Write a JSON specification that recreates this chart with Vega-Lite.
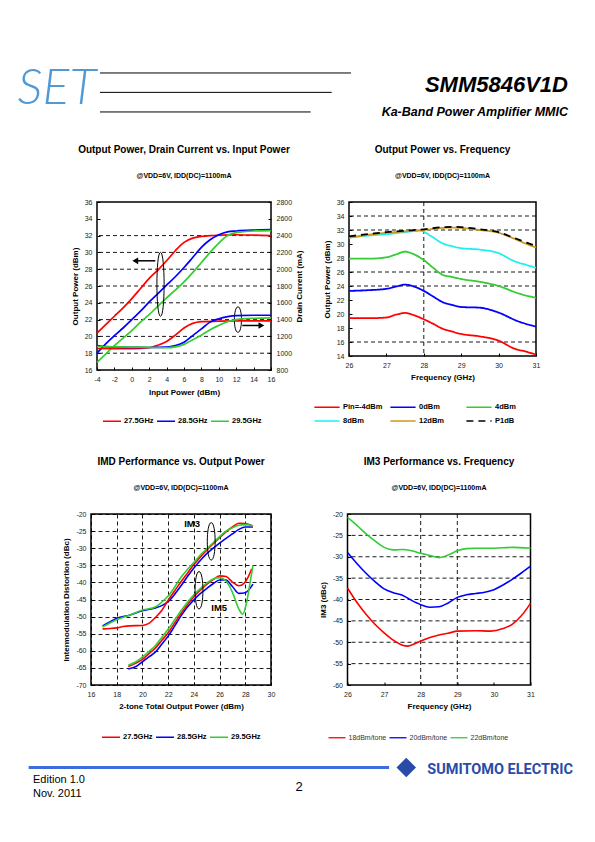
{
"$schema": "https://vega.github.io/schema/vega-lite/v6.json",
"background": "white",
"padding": {"left": 0, "top": 61, "right": 0, "bottom": 0},
"config": {
  "font": "Liberation Sans",
  "view": {"stroke": null},
  "axis": {"domain": false, "grid": false, "labelFont": "Liberation Sans", "labelFontSize": 7, "labelColor": "#222", "titleFont": "Liberation Sans", "titleFontSize": 8, "titleFontWeight": "bold", "titleColor": "#000", "tickColor": "#000", "tickSize": -3, "labelPadding": 8, "titlePadding": 5, "labelFlush": false, "labelOverlap": false, "gridColor": "#000", "gridDash": [4, 3], "gridWidth": 0.9, "gridOpacity": 1},
  "title": {"font": "Liberation Sans", "fontSize": 10, "fontWeight": "bold", "color": "#000", "subtitleFont": "Liberation Sans", "subtitleFontSize": 7, "subtitleFontWeight": "bold", "subtitleColor": "#000", "subtitlePadding": 17, "offset": 19, "anchor": "middle", "frame": "group"},
  "legend": {"labelFont": "Liberation Sans", "labelColor": "#000", "symbolType": "stroke"}
},
"datasets": {
  "p1pout": [
    {"x":-4,"y":20.4,"freq":"27.5GHz"},{"x":-3,"y":21.4,"freq":"27.5GHz"},{"x":-2,"y":22.4,"freq":"27.5GHz"},{"x":-1,"y":23.4,"freq":"27.5GHz"},{"x":0,"y":24.5,"freq":"27.5GHz"},{"x":1,"y":25.7,"freq":"27.5GHz"},{"x":2,"y":26.9,"freq":"27.5GHz"},{"x":3,"y":27.9,"freq":"27.5GHz"},{"x":4,"y":29.0,"freq":"27.5GHz"},{"x":5,"y":30.2,"freq":"27.5GHz"},{"x":6,"y":31.2,"freq":"27.5GHz"},{"x":7,"y":31.7,"freq":"27.5GHz"},{"x":8,"y":31.9,"freq":"27.5GHz"},{"x":9,"y":32.0,"freq":"27.5GHz"},{"x":10,"y":32.05,"freq":"27.5GHz"},{"x":12,"y":32.1,"freq":"27.5GHz"},{"x":14,"y":32.05,"freq":"27.5GHz"},{"x":16,"y":32.0,"freq":"27.5GHz"},
    {"x":-4,"y":18.0,"freq":"28.5GHz"},{"x":-3,"y":19.1,"freq":"28.5GHz"},{"x":-2,"y":20.1,"freq":"28.5GHz"},{"x":-1,"y":21.0,"freq":"28.5GHz"},{"x":0,"y":22.0,"freq":"28.5GHz"},{"x":1,"y":23.0,"freq":"28.5GHz"},{"x":2,"y":24.1,"freq":"28.5GHz"},{"x":3,"y":25.1,"freq":"28.5GHz"},{"x":4,"y":26.1,"freq":"28.5GHz"},{"x":5,"y":27.1,"freq":"28.5GHz"},{"x":6,"y":28.2,"freq":"28.5GHz"},{"x":7,"y":29.4,"freq":"28.5GHz"},{"x":8,"y":30.6,"freq":"28.5GHz"},{"x":9,"y":31.5,"freq":"28.5GHz"},{"x":10,"y":32.1,"freq":"28.5GHz"},{"x":11,"y":32.45,"freq":"28.5GHz"},{"x":12,"y":32.55,"freq":"28.5GHz"},{"x":14,"y":32.65,"freq":"28.5GHz"},{"x":16,"y":32.7,"freq":"28.5GHz"},
    {"x":-4,"y":16.9,"freq":"29.5GHz"},{"x":-3,"y":17.9,"freq":"29.5GHz"},{"x":-2,"y":18.9,"freq":"29.5GHz"},{"x":-1,"y":19.8,"freq":"29.5GHz"},{"x":0,"y":20.7,"freq":"29.5GHz"},{"x":1,"y":21.7,"freq":"29.5GHz"},{"x":2,"y":22.6,"freq":"29.5GHz"},{"x":3,"y":23.6,"freq":"29.5GHz"},{"x":4,"y":24.6,"freq":"29.5GHz"},{"x":5,"y":25.5,"freq":"29.5GHz"},{"x":6,"y":26.5,"freq":"29.5GHz"},{"x":7,"y":27.6,"freq":"29.5GHz"},{"x":8,"y":28.8,"freq":"29.5GHz"},{"x":9,"y":30.0,"freq":"29.5GHz"},{"x":10,"y":31.1,"freq":"29.5GHz"},{"x":11,"y":32.0,"freq":"29.5GHz"},{"x":12,"y":32.35,"freq":"29.5GHz"},{"x":14,"y":32.55,"freq":"29.5GHz"},{"x":16,"y":32.6,"freq":"29.5GHz"}
  ],
  "p1id": [
    {"x":-4,"ma":1056,"freq":"27.5GHz"},{"x":-2,"ma":1055,"freq":"27.5GHz"},{"x":0,"ma":1055,"freq":"27.5GHz"},{"x":2,"ma":1065,"freq":"27.5GHz"},{"x":3,"ma":1095,"freq":"27.5GHz"},{"x":4,"ma":1140,"freq":"27.5GHz"},{"x":5,"ma":1215,"freq":"27.5GHz"},{"x":6,"ma":1300,"freq":"27.5GHz"},{"x":7,"ma":1355,"freq":"27.5GHz"},{"x":8,"ma":1375,"freq":"27.5GHz"},{"x":10,"ma":1383,"freq":"27.5GHz"},{"x":12,"ma":1385,"freq":"27.5GHz"},{"x":14,"ma":1385,"freq":"27.5GHz"},{"x":16,"ma":1385,"freq":"27.5GHz"},
    {"x":-4,"ma":1090,"freq":"28.5GHz"},{"x":-3,"ma":1078,"freq":"28.5GHz"},{"x":-2,"ma":1072,"freq":"28.5GHz"},{"x":0,"ma":1070,"freq":"28.5GHz"},{"x":2,"ma":1068,"freq":"28.5GHz"},{"x":4,"ma":1072,"freq":"28.5GHz"},{"x":5,"ma":1090,"freq":"28.5GHz"},{"x":6,"ma":1130,"freq":"28.5GHz"},{"x":7,"ma":1210,"freq":"28.5GHz"},{"x":8,"ma":1290,"freq":"28.5GHz"},{"x":9,"ma":1370,"freq":"28.5GHz"},{"x":10,"ma":1410,"freq":"28.5GHz"},{"x":11,"ma":1435,"freq":"28.5GHz"},{"x":12,"ma":1448,"freq":"28.5GHz"},{"x":14,"ma":1452,"freq":"28.5GHz"},{"x":16,"ma":1452,"freq":"28.5GHz"},
    {"x":-4,"ma":1080,"freq":"29.5GHz"},{"x":-2,"ma":1075,"freq":"29.5GHz"},{"x":0,"ma":1072,"freq":"29.5GHz"},{"x":2,"ma":1070,"freq":"29.5GHz"},{"x":4,"ma":1065,"freq":"29.5GHz"},{"x":5,"ma":1075,"freq":"29.5GHz"},{"x":6,"ma":1105,"freq":"29.5GHz"},{"x":7,"ma":1160,"freq":"29.5GHz"},{"x":8,"ma":1215,"freq":"29.5GHz"},{"x":9,"ma":1280,"freq":"29.5GHz"},{"x":10,"ma":1330,"freq":"29.5GHz"},{"x":11,"ma":1375,"freq":"29.5GHz"},{"x":12,"ma":1400,"freq":"29.5GHz"},{"x":14,"ma":1415,"freq":"29.5GHz"},{"x":16,"ma":1420,"freq":"29.5GHz"}
  ],
  "p2": [
    {"x":26,"y":19.4,"pin":"Pin=-4dBm"},{"x":26.5,"y":19.4,"pin":"Pin=-4dBm"},{"x":27,"y":19.5,"pin":"Pin=-4dBm"},{"x":27.25,"y":19.9,"pin":"Pin=-4dBm"},{"x":27.5,"y":20.15,"pin":"Pin=-4dBm"},{"x":27.75,"y":19.8,"pin":"Pin=-4dBm"},{"x":28,"y":19.25,"pin":"Pin=-4dBm"},{"x":28.25,"y":18.6,"pin":"Pin=-4dBm"},{"x":28.5,"y":17.9,"pin":"Pin=-4dBm"},{"x":28.75,"y":17.5,"pin":"Pin=-4dBm"},{"x":29,"y":17.15,"pin":"Pin=-4dBm"},{"x":29.5,"y":16.8,"pin":"Pin=-4dBm"},{"x":30,"y":16.2,"pin":"Pin=-4dBm"},{"x":30.4,"y":15.1,"pin":"Pin=-4dBm"},{"x":30.75,"y":14.6,"pin":"Pin=-4dBm"},{"x":31,"y":14.2,"pin":"Pin=-4dBm"},
    {"x":26,"y":23.3,"pin":"0dBm"},{"x":26.5,"y":23.4,"pin":"0dBm"},{"x":27,"y":23.6,"pin":"0dBm"},{"x":27.25,"y":23.9,"pin":"0dBm"},{"x":27.5,"y":24.2,"pin":"0dBm"},{"x":27.75,"y":23.9,"pin":"0dBm"},{"x":28,"y":23.3,"pin":"0dBm"},{"x":28.25,"y":22.5,"pin":"0dBm"},{"x":28.5,"y":21.7,"pin":"0dBm"},{"x":28.75,"y":21.3,"pin":"0dBm"},{"x":29,"y":21.0,"pin":"0dBm"},{"x":29.5,"y":20.9,"pin":"0dBm"},{"x":30,"y":20.2,"pin":"0dBm"},{"x":30.5,"y":19.0,"pin":"0dBm"},{"x":31,"y":18.2,"pin":"0dBm"},
    {"x":26,"y":27.9,"pin":"4dBm"},{"x":26.5,"y":27.9,"pin":"4dBm"},{"x":27,"y":28.1,"pin":"4dBm"},{"x":27.25,"y":28.5,"pin":"4dBm"},{"x":27.5,"y":28.9,"pin":"4dBm"},{"x":27.75,"y":28.5,"pin":"4dBm"},{"x":28,"y":27.7,"pin":"4dBm"},{"x":28.25,"y":26.6,"pin":"4dBm"},{"x":28.5,"y":25.6,"pin":"4dBm"},{"x":28.75,"y":25.3,"pin":"4dBm"},{"x":29,"y":25.0,"pin":"4dBm"},{"x":29.5,"y":24.6,"pin":"4dBm"},{"x":30,"y":24.0,"pin":"4dBm"},{"x":30.5,"y":23.0,"pin":"4dBm"},{"x":31,"y":22.3,"pin":"4dBm"},
    {"x":26,"y":30.9,"pin":"8dBm"},{"x":26.5,"y":31.2,"pin":"8dBm"},{"x":27,"y":31.4,"pin":"8dBm"},{"x":27.5,"y":31.7,"pin":"8dBm"},{"x":27.9,"y":31.9,"pin":"8dBm"},{"x":28.2,"y":31.1,"pin":"8dBm"},{"x":28.5,"y":30.1,"pin":"8dBm"},{"x":28.75,"y":29.7,"pin":"8dBm"},{"x":29,"y":29.4,"pin":"8dBm"},{"x":29.5,"y":29.2,"pin":"8dBm"},{"x":30,"y":28.7,"pin":"8dBm"},{"x":30.4,"y":27.6,"pin":"8dBm"},{"x":30.75,"y":27.0,"pin":"8dBm"},{"x":31,"y":26.6,"pin":"8dBm"},
    {"x":26,"y":30.9,"pin":"12dBm"},{"x":26.5,"y":31.3,"pin":"12dBm"},{"x":27,"y":31.6,"pin":"12dBm"},{"x":27.5,"y":31.8,"pin":"12dBm"},{"x":28,"y":32.0,"pin":"12dBm"},{"x":28.5,"y":32.3,"pin":"12dBm"},{"x":28.75,"y":32.35,"pin":"12dBm"},{"x":29,"y":32.3,"pin":"12dBm"},{"x":29.5,"y":32.0,"pin":"12dBm"},{"x":30,"y":31.6,"pin":"12dBm"},{"x":30.4,"y":30.8,"pin":"12dBm"},{"x":30.75,"y":30.0,"pin":"12dBm"},{"x":31,"y":29.5,"pin":"12dBm"},
    {"x":26,"y":31.1,"pin":"P1dB"},{"x":26.5,"y":31.4,"pin":"P1dB"},{"x":27,"y":31.7,"pin":"P1dB"},{"x":27.5,"y":31.9,"pin":"P1dB"},{"x":28,"y":32.1,"pin":"P1dB"},{"x":28.5,"y":32.4,"pin":"P1dB"},{"x":28.75,"y":32.45,"pin":"P1dB"},{"x":29,"y":32.4,"pin":"P1dB"},{"x":29.5,"y":32.1,"pin":"P1dB"},{"x":30,"y":31.7,"pin":"P1dB"},{"x":30.4,"y":30.9,"pin":"P1dB"},{"x":30.75,"y":30.2,"pin":"P1dB"},{"x":31,"y":29.7,"pin":"P1dB"}
  ],
  "p3": [
    {"x":16.9,"y":-52.7,"freq":"28.5GHz","kind":"IM3"},{"x":17.5,"y":-51.5,"freq":"28.5GHz","kind":"IM3"},{"x":18,"y":-50.5,"freq":"28.5GHz","kind":"IM3"},{"x":19,"y":-49.6,"freq":"28.5GHz","kind":"IM3"},{"x":20,"y":-48.3,"freq":"28.5GHz","kind":"IM3"},{"x":21,"y":-47.5,"freq":"28.5GHz","kind":"IM3"},{"x":21.5,"y":-46.8,"freq":"28.5GHz","kind":"IM3"},{"x":22,"y":-45.6,"freq":"28.5GHz","kind":"IM3"},{"x":22.5,"y":-43.5,"freq":"28.5GHz","kind":"IM3"},{"x":23,"y":-41,"freq":"28.5GHz","kind":"IM3"},{"x":23.5,"y":-38.3,"freq":"28.5GHz","kind":"IM3"},{"x":24,"y":-35.8,"freq":"28.5GHz","kind":"IM3"},{"x":24.5,"y":-33.6,"freq":"28.5GHz","kind":"IM3"},{"x":25,"y":-31.6,"freq":"28.5GHz","kind":"IM3"},{"x":25.5,"y":-30,"freq":"28.5GHz","kind":"IM3"},{"x":26,"y":-28.5,"freq":"28.5GHz","kind":"IM3"},{"x":26.5,"y":-27.1,"freq":"28.5GHz","kind":"IM3"},{"x":27,"y":-25.8,"freq":"28.5GHz","kind":"IM3"},{"x":27.5,"y":-24.5,"freq":"28.5GHz","kind":"IM3"},{"x":28,"y":-23.8,"freq":"28.5GHz","kind":"IM3"},{"x":28.6,"y":-23.8,"freq":"28.5GHz","kind":"IM3"},
    {"x":16.9,"y":-53.6,"freq":"27.5GHz","kind":"IM3"},{"x":17.5,"y":-53.5,"freq":"27.5GHz","kind":"IM3"},{"x":18,"y":-53.3,"freq":"27.5GHz","kind":"IM3"},{"x":18.5,"y":-52.9,"freq":"27.5GHz","kind":"IM3"},{"x":19,"y":-52.7,"freq":"27.5GHz","kind":"IM3"},{"x":20,"y":-52.6,"freq":"27.5GHz","kind":"IM3"},{"x":20.5,"y":-52.0,"freq":"27.5GHz","kind":"IM3"},{"x":21,"y":-50.3,"freq":"27.5GHz","kind":"IM3"},{"x":21.5,"y":-48.2,"freq":"27.5GHz","kind":"IM3"},{"x":22,"y":-45.2,"freq":"27.5GHz","kind":"IM3"},{"x":22.5,"y":-42.5,"freq":"27.5GHz","kind":"IM3"},{"x":23,"y":-39.8,"freq":"27.5GHz","kind":"IM3"},{"x":23.5,"y":-37.3,"freq":"27.5GHz","kind":"IM3"},{"x":24,"y":-34.8,"freq":"27.5GHz","kind":"IM3"},{"x":24.5,"y":-32.6,"freq":"27.5GHz","kind":"IM3"},{"x":25,"y":-30.6,"freq":"27.5GHz","kind":"IM3"},{"x":25.5,"y":-28.7,"freq":"27.5GHz","kind":"IM3"},{"x":26,"y":-26.9,"freq":"27.5GHz","kind":"IM3"},{"x":26.5,"y":-25.2,"freq":"27.5GHz","kind":"IM3"},{"x":27,"y":-23.8,"freq":"27.5GHz","kind":"IM3"},{"x":27.5,"y":-22.7,"freq":"27.5GHz","kind":"IM3"},{"x":28,"y":-22.8,"freq":"27.5GHz","kind":"IM3"},{"x":28.6,"y":-23.5,"freq":"27.5GHz","kind":"IM3"},
    {"x":16.9,"y":-53.0,"freq":"29.5GHz","kind":"IM3"},{"x":17.5,"y":-51.8,"freq":"29.5GHz","kind":"IM3"},{"x":18,"y":-50.9,"freq":"29.5GHz","kind":"IM3"},{"x":19,"y":-49.6,"freq":"29.5GHz","kind":"IM3"},{"x":20,"y":-48.1,"freq":"29.5GHz","kind":"IM3"},{"x":21,"y":-47.2,"freq":"29.5GHz","kind":"IM3"},{"x":21.5,"y":-45.8,"freq":"29.5GHz","kind":"IM3"},{"x":22,"y":-44.0,"freq":"29.5GHz","kind":"IM3"},{"x":22.5,"y":-41.4,"freq":"29.5GHz","kind":"IM3"},{"x":23,"y":-38.5,"freq":"29.5GHz","kind":"IM3"},{"x":23.5,"y":-36.2,"freq":"29.5GHz","kind":"IM3"},{"x":24,"y":-34.2,"freq":"29.5GHz","kind":"IM3"},{"x":24.5,"y":-32.0,"freq":"29.5GHz","kind":"IM3"},{"x":25,"y":-30.2,"freq":"29.5GHz","kind":"IM3"},{"x":25.5,"y":-28.4,"freq":"29.5GHz","kind":"IM3"},{"x":26,"y":-26.6,"freq":"29.5GHz","kind":"IM3"},{"x":26.5,"y":-25.0,"freq":"29.5GHz","kind":"IM3"},{"x":27,"y":-24.0,"freq":"29.5GHz","kind":"IM3"},{"x":27.5,"y":-23.3,"freq":"29.5GHz","kind":"IM3"},{"x":28,"y":-23.1,"freq":"29.5GHz","kind":"IM3"},{"x":28.6,"y":-23.5,"freq":"29.5GHz","kind":"IM3"},
    {"x":18.9,"y":-65.3,"freq":"28.5GHz","kind":"IM5"},{"x":19.5,"y":-64.6,"freq":"28.5GHz","kind":"IM5"},{"x":20,"y":-63.2,"freq":"28.5GHz","kind":"IM5"},{"x":20.5,"y":-61.8,"freq":"28.5GHz","kind":"IM5"},{"x":21,"y":-60.4,"freq":"28.5GHz","kind":"IM5"},{"x":21.5,"y":-58.1,"freq":"28.5GHz","kind":"IM5"},{"x":22,"y":-55.7,"freq":"28.5GHz","kind":"IM5"},{"x":22.5,"y":-52.8,"freq":"28.5GHz","kind":"IM5"},{"x":23,"y":-49.8,"freq":"28.5GHz","kind":"IM5"},{"x":23.5,"y":-47.2,"freq":"28.5GHz","kind":"IM5"},{"x":24,"y":-45.1,"freq":"28.5GHz","kind":"IM5"},{"x":24.5,"y":-43.3,"freq":"28.5GHz","kind":"IM5"},{"x":25,"y":-41.8,"freq":"28.5GHz","kind":"IM5"},{"x":25.5,"y":-40.4,"freq":"28.5GHz","kind":"IM5"},{"x":26,"y":-39.3,"freq":"28.5GHz","kind":"IM5"},{"x":26.5,"y":-39.3,"freq":"28.5GHz","kind":"IM5"},{"x":27,"y":-41.2,"freq":"28.5GHz","kind":"IM5"},{"x":27.5,"y":-43.2,"freq":"28.5GHz","kind":"IM5"},{"x":28,"y":-43.0,"freq":"28.5GHz","kind":"IM5"},{"x":28.6,"y":-40.5,"freq":"28.5GHz","kind":"IM5"},
    {"x":18.9,"y":-64.6,"freq":"27.5GHz","kind":"IM5"},{"x":19.5,"y":-63.6,"freq":"27.5GHz","kind":"IM5"},{"x":20,"y":-62.5,"freq":"27.5GHz","kind":"IM5"},{"x":20.5,"y":-60.8,"freq":"27.5GHz","kind":"IM5"},{"x":21,"y":-59.2,"freq":"27.5GHz","kind":"IM5"},{"x":21.5,"y":-57.0,"freq":"27.5GHz","kind":"IM5"},{"x":22,"y":-54.7,"freq":"27.5GHz","kind":"IM5"},{"x":22.5,"y":-51.9,"freq":"27.5GHz","kind":"IM5"},{"x":23,"y":-49.1,"freq":"27.5GHz","kind":"IM5"},{"x":23.5,"y":-46.5,"freq":"27.5GHz","kind":"IM5"},{"x":24,"y":-44.2,"freq":"27.5GHz","kind":"IM5"},{"x":24.5,"y":-42.3,"freq":"27.5GHz","kind":"IM5"},{"x":25,"y":-40.6,"freq":"27.5GHz","kind":"IM5"},{"x":25.5,"y":-39.2,"freq":"27.5GHz","kind":"IM5"},{"x":26,"y":-38.1,"freq":"27.5GHz","kind":"IM5"},{"x":26.5,"y":-38.3,"freq":"27.5GHz","kind":"IM5"},{"x":27,"y":-39.9,"freq":"27.5GHz","kind":"IM5"},{"x":27.5,"y":-41.0,"freq":"27.5GHz","kind":"IM5"},{"x":27.9,"y":-40.3,"freq":"27.5GHz","kind":"IM5"},{"x":28.2,"y":-38.6,"freq":"27.5GHz","kind":"IM5"},{"x":28.5,"y":-36.0,"freq":"27.5GHz","kind":"IM5"},
    {"x":18.9,"y":-64.2,"freq":"29.5GHz","kind":"IM5"},{"x":19.5,"y":-63.2,"freq":"29.5GHz","kind":"IM5"},{"x":20,"y":-61.8,"freq":"29.5GHz","kind":"IM5"},{"x":20.5,"y":-60.2,"freq":"29.5GHz","kind":"IM5"},{"x":21,"y":-58.5,"freq":"29.5GHz","kind":"IM5"},{"x":21.5,"y":-56.1,"freq":"29.5GHz","kind":"IM5"},{"x":22,"y":-53.7,"freq":"29.5GHz","kind":"IM5"},{"x":22.5,"y":-51.0,"freq":"29.5GHz","kind":"IM5"},{"x":23,"y":-48.3,"freq":"29.5GHz","kind":"IM5"},{"x":23.5,"y":-45.8,"freq":"29.5GHz","kind":"IM5"},{"x":24,"y":-43.6,"freq":"29.5GHz","kind":"IM5"},{"x":24.5,"y":-41.8,"freq":"29.5GHz","kind":"IM5"},{"x":25,"y":-40.2,"freq":"29.5GHz","kind":"IM5"},{"x":25.5,"y":-39.0,"freq":"29.5GHz","kind":"IM5"},{"x":26,"y":-38.6,"freq":"29.5GHz","kind":"IM5"},{"x":26.5,"y":-39.6,"freq":"29.5GHz","kind":"IM5"},{"x":27,"y":-42.9,"freq":"29.5GHz","kind":"IM5"},{"x":27.5,"y":-47.8,"freq":"29.5GHz","kind":"IM5"},{"x":27.8,"y":-49.3,"freq":"29.5GHz","kind":"IM5"},{"x":28.1,"y":-45.9,"freq":"29.5GHz","kind":"IM5"},{"x":28.4,"y":-39.5,"freq":"29.5GHz","kind":"IM5"},{"x":28.6,"y":-35.0,"freq":"29.5GHz","kind":"IM5"}
  ],
  "p4": [
    {"x":26,"y":-37.3,"tone":"18dBm/tone"},{"x":26.25,"y":-40.6,"tone":"18dBm/tone"},{"x":26.5,"y":-43.4,"tone":"18dBm/tone"},{"x":26.75,"y":-45.8,"tone":"18dBm/tone"},{"x":27,"y":-47.8,"tone":"18dBm/tone"},{"x":27.25,"y":-49.5,"tone":"18dBm/tone"},{"x":27.5,"y":-50.7,"tone":"18dBm/tone"},{"x":27.65,"y":-50.9,"tone":"18dBm/tone"},{"x":27.9,"y":-50.1,"tone":"18dBm/tone"},{"x":28.25,"y":-48.9,"tone":"18dBm/tone"},{"x":28.5,"y":-48.3,"tone":"18dBm/tone"},{"x":28.75,"y":-47.9,"tone":"18dBm/tone"},{"x":29,"y":-47.4,"tone":"18dBm/tone"},{"x":29.5,"y":-47.3,"tone":"18dBm/tone"},{"x":29.9,"y":-47.4,"tone":"18dBm/tone"},{"x":30.25,"y":-46.8,"tone":"18dBm/tone"},{"x":30.5,"y":-45.8,"tone":"18dBm/tone"},{"x":30.75,"y":-43.8,"tone":"18dBm/tone"},{"x":31,"y":-40.9,"tone":"18dBm/tone"},
    {"x":26,"y":-29.0,"tone":"20dBm/tone"},{"x":26.25,"y":-31.5,"tone":"20dBm/tone"},{"x":26.5,"y":-33.8,"tone":"20dBm/tone"},{"x":26.75,"y":-35.8,"tone":"20dBm/tone"},{"x":27,"y":-37.5,"tone":"20dBm/tone"},{"x":27.25,"y":-38.4,"tone":"20dBm/tone"},{"x":27.5,"y":-39.0,"tone":"20dBm/tone"},{"x":27.75,"y":-40.2,"tone":"20dBm/tone"},{"x":28,"y":-41.2,"tone":"20dBm/tone"},{"x":28.25,"y":-41.8,"tone":"20dBm/tone"},{"x":28.5,"y":-41.7,"tone":"20dBm/tone"},{"x":28.75,"y":-40.8,"tone":"20dBm/tone"},{"x":29,"y":-39.5,"tone":"20dBm/tone"},{"x":29.25,"y":-38.9,"tone":"20dBm/tone"},{"x":29.5,"y":-38.6,"tone":"20dBm/tone"},{"x":29.75,"y":-38.3,"tone":"20dBm/tone"},{"x":30,"y":-37.7,"tone":"20dBm/tone"},{"x":30.25,"y":-36.6,"tone":"20dBm/tone"},{"x":30.5,"y":-35.3,"tone":"20dBm/tone"},{"x":30.75,"y":-33.8,"tone":"20dBm/tone"},{"x":31,"y":-32.2,"tone":"20dBm/tone"},
    {"x":26,"y":-20.8,"tone":"22dBm/tone"},{"x":26.25,"y":-22.6,"tone":"22dBm/tone"},{"x":26.5,"y":-24.6,"tone":"22dBm/tone"},{"x":26.75,"y":-26.3,"tone":"22dBm/tone"},{"x":27,"y":-27.8,"tone":"22dBm/tone"},{"x":27.25,"y":-28.4,"tone":"22dBm/tone"},{"x":27.5,"y":-28.3,"tone":"22dBm/tone"},{"x":27.75,"y":-28.6,"tone":"22dBm/tone"},{"x":28,"y":-29.2,"tone":"22dBm/tone"},{"x":28.25,"y":-29.7,"tone":"22dBm/tone"},{"x":28.5,"y":-30.2,"tone":"22dBm/tone"},{"x":28.75,"y":-29.6,"tone":"22dBm/tone"},{"x":29,"y":-28.6,"tone":"22dBm/tone"},{"x":29.25,"y":-28.1,"tone":"22dBm/tone"},{"x":29.5,"y":-28.0,"tone":"22dBm/tone"},{"x":30,"y":-28.0,"tone":"22dBm/tone"},{"x":30.5,"y":-27.8,"tone":"22dBm/tone"},{"x":31,"y":-28.0,"tone":"22dBm/tone"}
  ]
},
"spacing": 30,
"resolve": {"scale": {"color": "independent", "strokeDash": "independent"}, "legend": {"color": "independent", "strokeDash": "independent"}},
"vconcat": [
 {"spacing": 25, "resolve": {"scale": {"color": "independent", "strokeDash": "independent"}, "legend": {"color": "independent", "strokeDash": "independent"}}, "vconcat": [
  {"width": 568, "height": 56, "data": {"values": [{"k": 1}]},
   "layer": [
    {"mark": {"type": "text", "text": "SET", "font": "Lato", "fontSize": 50, "fontWeight": 300, "fontStyle": "italic", "color": "#4f9ad6", "align": "center", "baseline": "middle"},
     "encoding": {"x": {"datum": 0.1, "type": "quantitative", "scale": {"domain": [0, 1], "nice": false, "zero": false}, "axis": null},
                  "y": {"datum": 0.5, "type": "quantitative", "scale": {"domain": [0, 1], "reverse": true, "nice": false, "zero": false}, "axis": null}}},
    {"mark": {"type": "rule", "color": "#000", "strokeWidth": 1}, "encoding": {"x": {"datum": 0.176}, "x2": {"datum": 0.618}, "y": {"datum": 0.214}}},
    {"mark": {"type": "rule", "color": "#000", "strokeWidth": 1}, "encoding": {"x": {"datum": 0.176}, "x2": {"datum": 0.584}, "y": {"datum": 0.56}}},
    {"mark": {"type": "rule", "color": "#000", "strokeWidth": 1}, "encoding": {"x": {"datum": 0.176}, "x2": {"datum": 0.547}, "y": {"datum": 0.91}}},
    {"mark": {"type": "text", "text": "SMM5846V1D", "fontSize": 22, "fontWeight": "bold", "fontStyle": "italic", "color": "#000", "align": "right", "baseline": "alphabetic"},
     "encoding": {"x": {"datum": 1}, "y": {"datum": 0.56}}},
    {"mark": {"type": "text", "text": "Ka-Band Power Amplifier MMIC", "fontSize": 12.5, "fontWeight": "bold", "fontStyle": "italic", "color": "#000", "align": "right", "baseline": "alphabetic"},
     "encoding": {"x": {"datum": 1}, "y": {"datum": 0.98}}}
   ]},
  {"spacing": 0, "resolve": {"scale": {"color": "independent", "strokeDash": "independent"}, "legend": {"color": "independent", "strokeDash": "independent"}}, "hconcat": [
   {"width": 70, "height": 10, "data": {"values": []}, "mark": "point"},
   {"spacing": 14, "resolve": {"scale": {"color": "independent", "strokeDash": "independent"}, "legend": {"color": "independent", "strokeDash": "independent"}}, "hconcat": [
    {"width": 174, "height": 168,
     "view": {"stroke": "#000", "strokeWidth": 1.5},
     "title": {"text": "Output Power, Drain Current vs. Input Power", "subtitle": "@VDD=6V, IDD(DC)=1100mA"},
     "layer": [
      {"layer": [
        {"data": {"values": [{"y":18},{"y":20},{"y":22},{"y":24},{"y":26},{"y":28},{"y":30},{"y":32}]},
         "mark": {"type": "rule", "color": "#000", "strokeWidth": 0.9, "strokeDash": [4, 3]},
         "encoding": {"y": {"field": "y", "type": "quantitative", "scale": {"domain": [16, 36], "nice": false, "zero": false}}}},
        {"data": {"name": "p1pout"},
         "mark": {"type": "line", "interpolate": "monotone", "strokeWidth": 1.7},
         "encoding": {
           "x": {"field": "x", "type": "quantitative", "scale": {"domain": [-4, 16], "nice": false, "zero": false}, "axis": {"title": "Input Power (dBm)", "values": [-4,-2,0,2,4,6,8,10,12,14,16], "tickCount": 50, "format": "d", "labelExpr": "'' + datum.value", "labelOverlap": false, "titlePadding": 6}},
           "y": {"field": "y", "type": "quantitative", "axis": {"title": "Output Power (dBm)", "values": [16,18,20,22,24,26,28,30,32,34,36], "tickCount": 50, "format": "d", "labelExpr": "'' + datum.value", "labelOverlap": false}},
           "color": {"field": "freq", "type": "nominal", "scale": {"domain": ["27.5GHz","28.5GHz","29.5GHz"], "range": ["#ff0000","#0000ff","#33cc33"]},
                     "legend": {"title": null, "orient": "none", "legendX": 5, "legendY": 209, "direction": "horizontal", "symbolType": "stroke", "symbolSize": 324, "symbolStrokeWidth": 1.5, "labelFontSize": 7.5, "labelFontWeight": "bold", "labelOffset": 2, "columnPadding": 0}}}},
        {"data": {"values": [{"x": 3.3, "y": 26.2}]},
         "mark": {"type": "point", "shape": "M0,-1C0.15,-1 0.15,1 0,1C-0.15,1 -0.15,-1 0,-1Z", "size": 4096, "filled": false, "color": "#000", "strokeWidth": 1, "opacity": 1},
         "encoding": {"x": {"field": "x", "type": "quantitative"}, "y": {"field": "y", "type": "quantitative"}}},
        {"data": {"values": [{"x": 12.2, "y": 22.0}]},
         "mark": {"type": "point", "shape": "M0,-1C0.37,-1 0.37,1 0,1C-0.37,1 -0.37,-1 0,-1Z", "size": 650, "filled": false, "color": "#000", "strokeWidth": 1, "opacity": 1},
         "encoding": {"x": {"field": "x", "type": "quantitative"}, "y": {"field": "y", "type": "quantitative"}}},
        {"data": {"values": [{"x": 2.7, "x2": 0.6, "y": 29.0}, {"x": 12.7, "x2": 14.7, "y": 21.3}]},
         "mark": {"type": "rule", "color": "#000", "strokeWidth": 1.5},
         "encoding": {"x": {"field": "x", "type": "quantitative"}, "x2": {"field": "x2"}, "y": {"field": "y", "type": "quantitative"}}},
        {"data": {"values": [{"x": 0.4, "y": 29.0}]},
         "mark": {"type": "point", "shape": "triangle-left", "size": 45, "filled": true, "color": "#000", "opacity": 1},
         "encoding": {"x": {"field": "x", "type": "quantitative"}, "y": {"field": "y", "type": "quantitative"}}},
        {"data": {"values": [{"x": 14.9, "y": 21.3}]},
         "mark": {"type": "point", "shape": "triangle-right", "size": 45, "filled": true, "color": "#000", "opacity": 1},
         "encoding": {"x": {"field": "x", "type": "quantitative"}, "y": {"field": "y", "type": "quantitative"}}}
      ]},
      {"data": {"name": "p1id"},
       "mark": {"type": "line", "interpolate": "monotone", "strokeWidth": 1.7},
       "encoding": {
         "x": {"field": "x", "type": "quantitative"},
         "y": {"field": "ma", "type": "quantitative", "scale": {"domain": [800, 2800], "nice": false, "zero": false}, "axis": {"orient": "right", "title": "Drain Current (mA)", "titleAngle": -90, "titleBaseline": "top", "titlePadding": 4, "format": "d", "labelExpr": "'' + datum.value", "tickCount": 50, "labelOverlap": false, "values": [800,1000,1200,1400,1600,1800,2000,2200,2400,2600,2800]}},
         "color": {"field": "freq", "type": "nominal"}}}
     ],
     "resolve": {"scale": {"y": "independent"}}},
    {"width": 187, "height": 154,
     "view": {"stroke": "#000", "strokeWidth": 1.5},
     "title": {"text": "Output Power vs. Frequency", "subtitle": "@VDD=6V, IDD(DC)=1100mA"},
     "layer": [
      {"data": {"values": [{"y":34},{"y":32},{"y":26},{"y":24},{"y":16}]},
       "mark": {"type": "rule", "color": "#000", "strokeWidth": 0.9, "strokeDash": [4, 3]},
       "encoding": {"y": {"field": "y", "type": "quantitative", "scale": {"domain": [14, 36], "nice": false, "zero": false}}}},
      {"data": {"values": [{"x": 28}]},
       "mark": {"type": "rule", "color": "#000", "strokeWidth": 0.9, "strokeDash": [4, 3]},
       "encoding": {"x": {"field": "x", "type": "quantitative", "scale": {"domain": [26, 31], "nice": false, "zero": false}}}},
      {"data": {"name": "p2"},
       "mark": {"type": "line", "interpolate": "monotone", "strokeWidth": 1.8},
       "encoding": {
         "x": {"field": "x", "type": "quantitative", "axis": {"title": "Frequency (GHz)", "values": [26,27,28,29,30,31], "tickCount": 50, "format": "d", "labelExpr": "'' + datum.value", "labelOverlap": false}},
         "y": {"field": "y", "type": "quantitative", "axis": {"title": "Output Power (dBm)", "values": [14,16,18,20,22,24,26,28,30,32,34,36], "tickCount": 50, "format": "d", "labelExpr": "'' + datum.value", "labelOverlap": false}},
         "color": {"field": "pin", "type": "nominal", "scale": {"domain": ["Pin=-4dBm","0dBm","4dBm","8dBm","12dBm","P1dB"], "range": ["#ff0000","#0000ff","#33cc33","#22eeee","#cc9a1a","#000000"]},
                   "legend": {"title": null, "orient": "none", "legendX": -29, "legendY": 198, "direction": "horizontal", "columns": 3, "gridAlign": "all", "symbolType": "M-2.1,0H2.1", "symbolSize": 144, "symbolStrokeWidth": 1.5, "labelFontSize": 7.5, "labelFontWeight": "bold", "labelOffset": 9, "columnPadding": 4, "rowPadding": 3}},
         "strokeDash": {"field": "pin", "type": "nominal", "scale": {"domain": ["Pin=-4dBm","0dBm","4dBm","8dBm","12dBm","P1dB"], "range": [[1,0],[1,0],[1,0],[1,0],[1,0],[7,5]]},
                   "legend": {"title": null, "orient": "none", "legendX": -29, "legendY": 198, "direction": "horizontal", "columns": 3, "gridAlign": "all", "symbolType": "M-2.1,0H2.1", "symbolSize": 144, "symbolStrokeWidth": 1.5, "labelFontSize": 7.5, "labelFontWeight": "bold", "labelOffset": 9, "columnPadding": 4, "rowPadding": 3}}}}
     ]}
   ]}
  ]}
 ]},
 {"spacing": 15.5, "resolve": {"scale": {"color": "independent", "strokeDash": "independent"}, "legend": {"color": "independent", "strokeDash": "independent"}}, "vconcat": [
  {"spacing": 0, "resolve": {"scale": {"color": "independent", "strokeDash": "independent"}, "legend": {"color": "independent", "strokeDash": "independent"}}, "hconcat": [
   {"width": 62, "height": 10, "data": {"values": []}, "mark": "point"},
   {"spacing": 42.5, "resolve": {"scale": {"color": "independent", "strokeDash": "independent"}, "legend": {"color": "independent", "strokeDash": "independent"}}, "hconcat": [
    {"width": 180, "height": 171,
     "view": {"stroke": "#000", "strokeWidth": 1.5},
     "title": {"text": "IMD Performance vs. Output Power", "subtitle": "@VDD=6V, IDD(DC)=1100mA"},
     "layer": [
      {"data": {"name": "p3"},
       "mark": {"type": "line", "interpolate": "monotone", "strokeWidth": 1.6},
       "encoding": {
         "x": {"field": "x", "type": "quantitative", "scale": {"domain": [16, 30], "nice": false, "zero": false}, "axis": {"title": "2-tone Total Output Power (dBm)", "values": [16,18,20,22,24,26,28,30], "tickCount": 50, "format": "d", "labelExpr": "'' + datum.value", "grid": true, "labelOverlap": false}},
         "y": {"field": "y", "type": "quantitative", "scale": {"domain": [-70, -20], "nice": false, "zero": false}, "axis": {"title": "Intermodulation Distortion (dBc)", "values": [-70,-65,-60,-55,-50,-45,-40,-35,-30,-25,-20], "tickCount": 50, "format": "d", "labelExpr": "'' + datum.value", "grid": true, "labelOverlap": false}},
         "color": {"field": "freq", "type": "nominal", "scale": {"domain": ["27.5GHz","28.5GHz","29.5GHz"], "range": ["#ff0000","#0000ff","#33cc33"]},
                   "legend": {"title": null, "orient": "none", "legendX": 10, "legendY": 213, "direction": "horizontal", "symbolType": "stroke", "symbolSize": 324, "symbolStrokeWidth": 1.5, "labelFontSize": 7.5, "labelFontWeight": "bold", "labelOffset": 2, "columnPadding": 0}},
         "detail": {"field": "kind", "type": "nominal"}}},
      {"data": {"values": [{"x": 25.35, "y": -28.0}, {"x": 24.4, "y": -42.3}]},
       "mark": {"type": "point", "shape": "M0,-1C0.28,-1 0.28,1 0,1C-0.28,1 -0.28,-1 0,-1Z", "size": 1400, "filled": false, "color": "#000", "strokeWidth": 1, "opacity": 1},
       "encoding": {"x": {"field": "x", "type": "quantitative"}, "y": {"field": "y", "type": "quantitative"}}},
      {"data": {"values": [{"x": 23.86, "y": -22.8, "label": "IM3"}, {"x": 25.97, "y": -47.6, "label": "IM5"}]},
       "mark": {"type": "text", "fontSize": 9.5, "fontWeight": "bold", "color": "#000", "align": "center", "baseline": "middle"},
       "encoding": {"x": {"field": "x", "type": "quantitative"}, "y": {"field": "y", "type": "quantitative"}, "text": {"field": "label"}}}
     ]},
    {"width": 183, "height": 171,
     "view": {"stroke": "#000", "strokeWidth": 1.5},
     "title": {"text": "IM3 Performance vs. Frequency", "subtitle": "@VDD=6V, IDD(DC)=1100mA"},
     "layer": [
      {"data": {"values": [{"y":-25},{"y":-30},{"y":-35},{"y":-40},{"y":-45},{"y":-50},{"y":-55}]},
       "mark": {"type": "rule", "color": "#000", "strokeWidth": 0.9, "strokeDash": [4, 3]},
       "encoding": {"y": {"field": "y", "type": "quantitative", "scale": {"domain": [-60, -20], "nice": false, "zero": false}}}},
      {"data": {"values": [{"x": 28}, {"x": 29}]},
       "mark": {"type": "rule", "color": "#000", "strokeWidth": 0.9, "strokeDash": [4, 3]},
       "encoding": {"x": {"field": "x", "type": "quantitative", "scale": {"domain": [26, 31], "nice": false, "zero": false}}}},
      {"data": {"name": "p4"},
       "mark": {"type": "line", "interpolate": "monotone", "strokeWidth": 1.6},
       "encoding": {
         "x": {"field": "x", "type": "quantitative", "axis": {"title": "Frequency (GHz)", "values": [26,27,28,29,30,31], "tickCount": 50, "format": "d", "labelExpr": "'' + datum.value", "labelOverlap": false}},
         "y": {"field": "y", "type": "quantitative", "axis": {"title": "IM3 (dBc)", "values": [-60,-55,-50,-45,-40,-35,-30,-25,-20], "tickCount": 50, "format": "d", "labelExpr": "'' + datum.value", "labelOverlap": false}},
         "color": {"field": "tone", "type": "nominal", "scale": {"domain": ["18dBm/tone","20dBm/tone","22dBm/tone"], "range": ["#ff0000","#0000ff","#33cc33"]},
                   "legend": {"title": null, "orient": "none", "legendX": -20, "legendY": 214, "direction": "horizontal", "symbolType": "stroke", "symbolSize": 289, "symbolStrokeWidth": 1.3, "labelFontSize": 7, "labelFontWeight": "normal", "labelColor": "#333", "labelOffset": 2, "columnPadding": 0}}}}
     ]}
   ]}
  ]},
  {"width": 573, "height": 40, "data": {"values": [{"k": 1}]},
   "layer": [
    {"mark": {"type": "rule", "color": "#3d6be0", "strokeWidth": 3},
     "encoding": {"x": {"datum": 0.05, "type": "quantitative", "scale": {"domain": [0, 1], "nice": false, "zero": false}, "axis": null},
                  "x2": {"datum": 0.679},
                  "y": {"datum": 0.2, "type": "quantitative", "scale": {"domain": [0, 1], "reverse": true, "nice": false, "zero": false}, "axis": null}}},
    {"mark": {"type": "point", "shape": "diamond", "size": 380, "filled": true, "color": "#2b4ba8", "opacity": 1},
     "encoding": {"x": {"datum": 0.709}, "y": {"datum": 0.2}}},
    {"mark": {"type": "text", "text": "SUMITOMO ELECTRIC", "font": "Roboto", "fontSize": 14.5, "fontWeight": "bold", "color": "#2b4ba8", "align": "right", "baseline": "alphabetic"},
     "encoding": {"x": {"datum": 1}, "y": {"datum": 0.37}}},
    {"mark": {"type": "text", "text": "Edition 1.0", "fontSize": 11, "color": "#000", "align": "left", "baseline": "alphabetic"},
     "encoding": {"x": {"datum": 0.0576}, "y": {"datum": 0.59}}},
    {"mark": {"type": "text", "text": "Nov. 2011", "fontSize": 11, "color": "#000", "align": "left", "baseline": "alphabetic"},
     "encoding": {"x": {"datum": 0.0576}, "y": {"datum": 0.925}}},
    {"mark": {"type": "text", "text": "2", "fontSize": 13, "color": "#000", "align": "center", "baseline": "alphabetic"},
     "encoding": {"x": {"datum": 0.522}, "y": {"datum": 0.775}}}
   ]}
 ]}
]
}
